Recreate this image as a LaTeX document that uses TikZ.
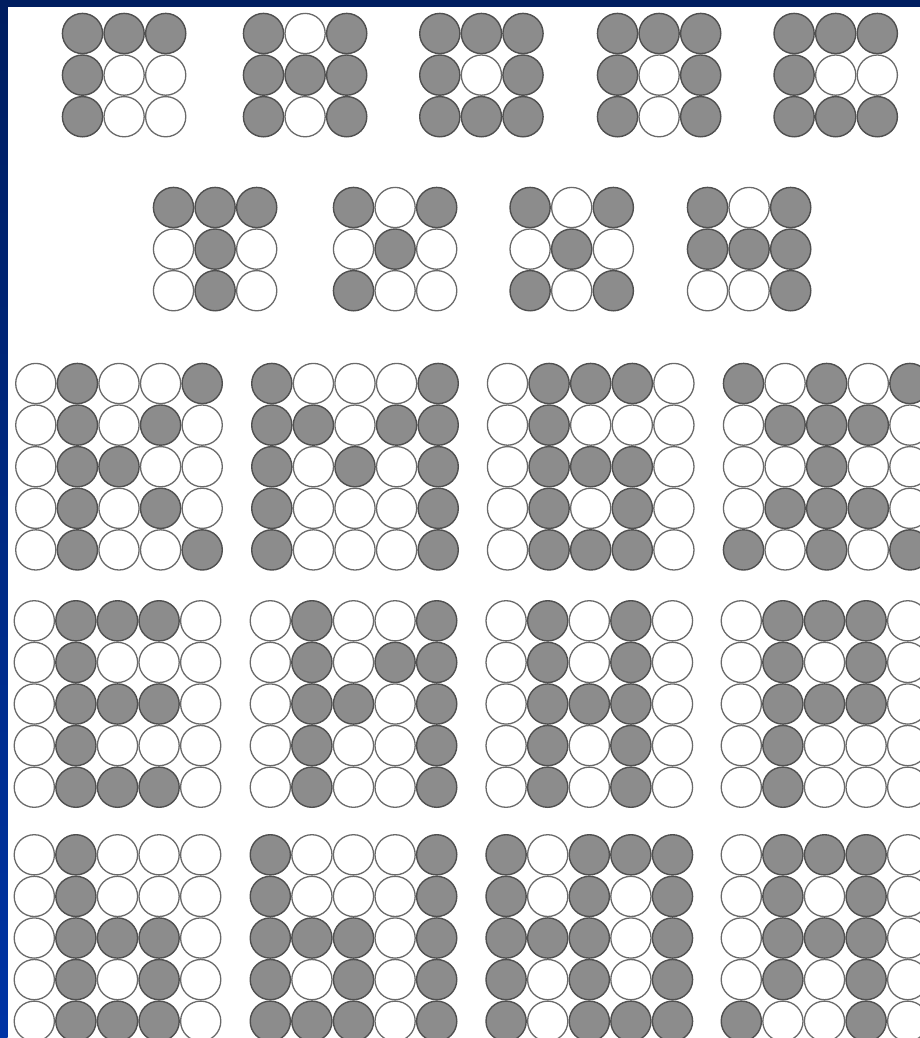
\documentclass[tikz,border=0pt]{standalone}
\usetikzlibrary{calc}
\definecolor{navy}{RGB}{0,30,96}
\definecolor{royal}{RGB}{0,52,165}
\definecolor{dotgray}{RGB}{140,140,140}
\definecolor{dotedge}{RGB}{80,80,80}
\tikzset{
  d1/.style={fill=dotgray, draw=dotedge, line width=1.4pt},
  d0/.style={fill=white, draw=dotedge!85!white, line width=1.3pt}
}
\newcommand\dotgrid[4]{%
  \foreach \v [count=\k from 0] in {#4} {
    \pgfmathtruncatemacro\cc{mod(\k,#3)}
    \pgfmathtruncatemacro\rr{floor(\k/#3)}
    \path[d\v] ({#1+20.8+41.6*\cc},{#2+20.8+41.6*\rr}) circle[radius=20.1pt];
  }}
\begin{document}
\begin{tikzpicture}[x=1pt,y=-1pt]
\useasboundingbox (0,0) rectangle (920,1038);
\fill[white] (0,0) rectangle (920,1038);
% frame of the slide
\shade[top color=navy, bottom color=royal] (0,0) rectangle (7.5,1038);
\fill[navy] (0,0) rectangle (920,7.5);
% 3x3 patterns, first row
\dotgrid{61.7}{12.7}{3}{1,1,1, 1,0,0, 1,0,0}
\dotgrid{242.7}{12.7}{3}{1,0,1, 1,1,1, 1,0,1}
\dotgrid{419}{12.7}{3}{1,1,1, 1,0,1, 1,1,1}
\dotgrid{596.7}{12.7}{3}{1,1,1, 1,0,1, 1,0,1}
\dotgrid{773.3}{12.7}{3}{1,1,1, 1,0,0, 1,1,1}
% 3x3 patterns, second row
\dotgrid{152.7}{186.7}{3}{1,1,1, 0,1,0, 0,1,0}
\dotgrid{332.7}{186.7}{3}{1,0,1, 0,1,0, 1,0,0}
\dotgrid{509.3}{186.7}{3}{1,0,1, 0,1,0, 1,0,1}
\dotgrid{686.7}{186.7}{3}{1,0,1, 1,1,1, 0,0,1}
% 5x5 patterns, row A
\dotgrid{15}{362.7}{5}{0,1,0,0,1, 0,1,0,1,0, 0,1,1,0,0, 0,1,0,1,0, 0,1,0,0,1}
\dotgrid{251}{362.7}{5}{1,0,0,0,1, 1,1,0,1,1, 1,0,1,0,1, 1,0,0,0,1, 1,0,0,0,1}
\dotgrid{486.7}{362.7}{5}{0,1,1,1,0, 0,1,0,0,0, 0,1,1,1,0, 0,1,0,1,0, 0,1,1,1,0}
\dotgrid{722.7}{362.7}{5}{1,0,1,0,1, 0,1,1,1,0, 0,0,1,0,0, 0,1,1,1,0, 1,0,1,0,1}
% 5x5 patterns, row B
\dotgrid{13.5}{600}{5}{0,1,1,1,0, 0,1,0,0,0, 0,1,1,1,0, 0,1,0,0,0, 0,1,1,1,0}
\dotgrid{249.5}{600}{5}{0,1,0,0,1, 0,1,0,1,1, 0,1,1,0,1, 0,1,0,0,1, 0,1,0,0,1}
\dotgrid{485.3}{600}{5}{0,1,0,1,0, 0,1,0,1,0, 0,1,1,1,0, 0,1,0,1,0, 0,1,0,1,0}
\dotgrid{720.5}{600}{5}{0,1,1,1,0, 0,1,0,1,0, 0,1,1,1,0, 0,1,0,0,0, 0,1,0,0,0}
% 5x5 patterns, row C
\dotgrid{13.5}{834}{5}{0,1,0,0,0, 0,1,0,0,0, 0,1,1,1,0, 0,1,0,1,0, 0,1,1,1,0}
\dotgrid{249.5}{834}{5}{1,0,0,0,1, 1,0,0,0,1, 1,1,1,0,1, 1,0,1,0,1, 1,1,1,0,1}
\dotgrid{485.3}{834}{5}{1,0,1,1,1, 1,0,1,0,1, 1,1,1,0,1, 1,0,1,0,1, 1,0,1,1,1}
\dotgrid{720.5}{834}{5}{0,1,1,1,0, 0,1,0,1,0, 0,1,1,1,0, 0,1,0,1,0, 1,0,0,1,0}
\end{tikzpicture}
\end{document}
